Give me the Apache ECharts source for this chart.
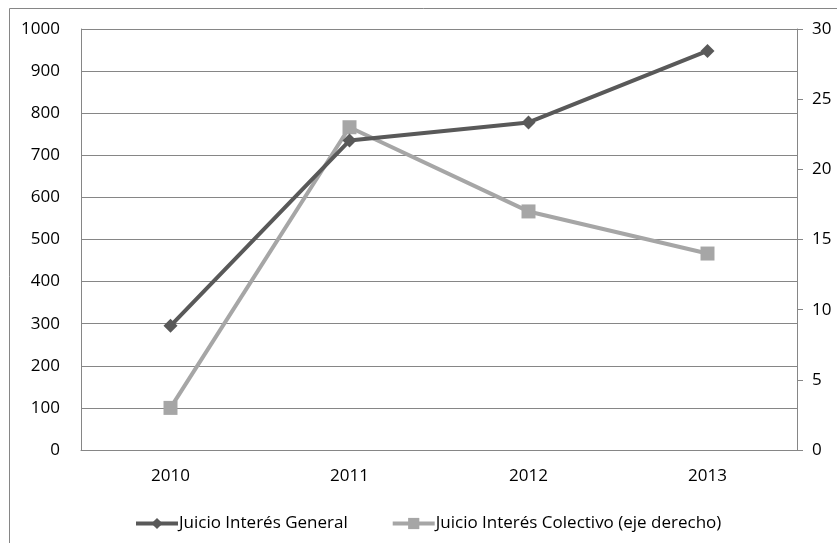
<!DOCTYPE html>
<html>
<head>
<meta charset="utf-8">
<script src="https://cdn.jsdelivr.net/npm/echarts@6/dist/echarts.min.js"></script>
<style>
  html, body { margin: 0; padding: 0; background: #fff; }
  #chart { width: 837px; height: 543px; }
</style>
</head>
<body>
<div id="chart"></div>
<script>
// Years on the category axis
const years = ['2010', '2011', '2012', '2013'];
// Left axis series
const generalName = 'Juicio Interés General';
const generalValues = [295, 735, 778, 948];
// Right axis series
const colectivoName = 'Juicio Interés Colectivo (eje derecho)';
const colectivoValues = [3, 23, 17, 14];

const FONT = 'Open Sans';
const FONT_SIZE = 17;
const AXIS_GRAY = '#868686';

const chart = echarts.init(document.getElementById('chart'), null, { renderer: 'canvas' });

chart.setOption({
  animation: false,
  backgroundColor: '#ffffff',
  textStyle: { fontFamily: FONT, color: '#000' },
  graphic: [{
    type: 'rect',
    shape: { x: 9.5, y: 8.5, width: 900, height: 600 },
    style: { fill: 'none', stroke: AXIS_GRAY, lineWidth: 1 },
    silent: true
  }],
  grid: { left: 81, right: 40, top: 29, bottom: 93, containLabel: false },
  legend: {
    top: 510,
    left: 129,
    itemWidth: 42,
    itemHeight: 14,
    itemGap: 43,
    lineStyle: { width: 4 },
    textStyle: { fontFamily: FONT, fontSize: FONT_SIZE, color: '#000', padding: [0, 0, 0, -4] },
    data: [generalName, colectivoName]
  },
  xAxis: {
    type: 'category',
    data: years,
    boundaryGap: true,
    axisLine: { lineStyle: { color: AXIS_GRAY, width: 1 } },
    axisTick: { show: false },
    axisLabel: { fontFamily: FONT, fontSize: FONT_SIZE, color: '#000', margin: 18 }
  },
  yAxis: [{
    type: 'value',
    min: 0, max: 1000, interval: 100,
    position: 'left',
    axisLine: { show: true, lineStyle: { color: AXIS_GRAY, width: 1 } },
    axisTick: { show: false },
    splitLine: { show: true, lineStyle: { color: AXIS_GRAY, width: 1 } },
    axisLabel: { fontFamily: FONT, fontSize: FONT_SIZE, color: '#000', margin: 21, formatter: v => String(v) }
  }, {
    type: 'value',
    min: 0, max: 30, interval: 5,
    position: 'right',
    axisLine: { show: true, lineStyle: { color: AXIS_GRAY, width: 1 } },
    axisTick: { show: true, length: 6, lineStyle: { color: AXIS_GRAY, width: 1 } },
    splitLine: { show: false },
    axisLabel: { fontFamily: FONT, fontSize: FONT_SIZE, color: '#000', margin: 15, formatter: v => String(v) }
  }],
  series: [{
    name: generalName,
    type: 'line',
    yAxisIndex: 0,
    data: generalValues,
    symbol: 'diamond',
    symbolSize: 14,
    lineStyle: { color: '#595959', width: 4 },
    itemStyle: { color: '#595959' },
    z: 3
  }, {
    name: colectivoName,
    type: 'line',
    yAxisIndex: 1,
    data: colectivoValues,
    symbol: 'rect',
    symbolSize: 14,
    lineStyle: { color: '#a6a6a6', width: 4 },
    itemStyle: { color: '#a6a6a6' },
    z: 2
  }]
});
</script>
</body>
</html>
